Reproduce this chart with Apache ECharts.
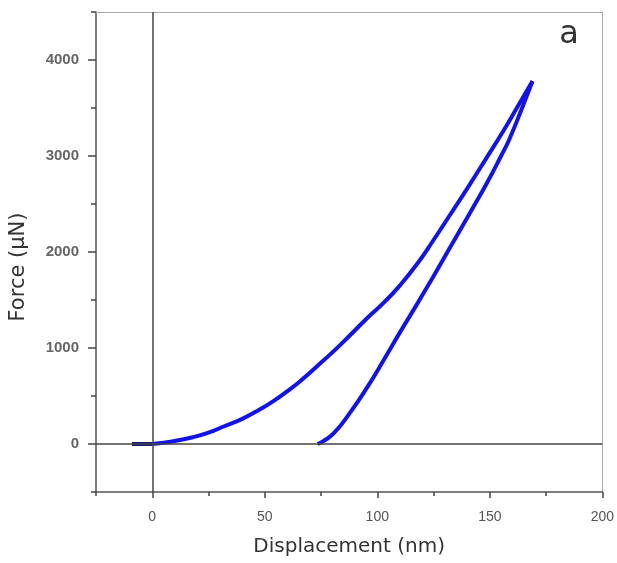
<!DOCTYPE html>
<html>
<head>
<meta charset="utf-8">
<script src="https://cdn.jsdelivr.net/npm/echarts@6/dist/echarts.min.js"></script>
<style>
  html, body { margin: 0; padding: 0; background: #fff; }
  #chart { width: 617px; height: 563px; }
</style>
</head>
<body>
<div id="chart"></div>
<script>
// 数据：位移 (nm) 与 力 (µN)
const baseDisp = [-9, -6, -3, 0];
const baseForce = [0, 0, 0, 0];

// 加载曲线
const loadDisp = [0, 4, 10, 18, 25, 32, 40, 47, 54, 62, 66, 73, 81, 88, 95, 103, 110, 118, 125, 132, 141, 148, 156, 162, 169];
const loadForce = [0, 10, 32, 70, 118, 185, 262, 350, 450, 585, 660, 805, 975, 1135, 1300, 1475, 1650, 1885, 2125, 2375, 2700, 2960, 3260, 3500, 3780];

// 卸载曲线
const unloadDisp = [169, 164, 158.6, 155, 148.3, 142, 135.1, 128, 124.8, 118, 110, 103, 95.5, 88, 80.8, 76, 73.5];
const unloadForce = [3780, 3480, 3170, 3000, 2700, 2440, 2160, 1870, 1740, 1470, 1160, 880, 590, 330, 115, 30, 0];

// 刻度
const xMajor = [0, 50, 100, 150, 200];
const xMinor = [-25, 25, 75, 125, 175];
const yMajor = [0, 1000, 2000, 3000, 4000];
const yMinor = [-500, 500, 1500, 2500, 3500, 4500];

const zip = (xs, ys) => xs.map((x, i) => [x, ys[i]]);

const myChart = echarts.init(document.getElementById('chart'));

const font = 'DejaVu Sans';

const option = {
  animation: false,
  grid: { left: 95, right: 13, top: 12, bottom: 71 },
  xAxis: [
    {
      type: 'value', min: -25, max: 200, interval: 25, position: 'bottom',
      name: 'Displacement (nm)', nameLocation: 'middle', nameGap: 45,
      nameTextStyle: { fontFamily: font, fontSize: 20, color: '#333' },
      axisLine: { onZero: false, lineStyle: { color: '#555', width: 1.5 } },
      axisTick: { customValues: xMajor, length: 6, lineStyle: { color: '#444', width: 1.5 } },
      axisLabel: { customValues: xMajor, color: '#555', fontSize: 14, margin: 18, fontFamily: 'Liberation Sans',
        formatter: v => String(v) },
      splitLine: { show: false }
    },
    {
      // 次刻度
      type: 'value', min: -25, max: 200, interval: 25, position: 'bottom',
      axisLine: { show: false, onZero: false },
      axisTick: { customValues: xMinor, length: 4, lineStyle: { color: '#444', width: 1.5 } },
      axisLabel: { show: false },
      splitLine: { show: false }
    },
    {
      type: 'value', min: -25, max: 200, position: 'top',
      axisLine: { onZero: false, lineStyle: { color: '#aaa', width: 1 } },
      axisTick: { show: false }, axisLabel: { show: false }, splitLine: { show: false }
    }
  ],
  yAxis: [
    {
      type: 'value', min: -500, max: 4500, interval: 500, position: 'left',
      name: 'Force (µN)', nameLocation: 'middle', nameGap: 67,
      nameTextStyle: { fontFamily: font, fontSize: 21, color: '#333', padding: [0, 30, 0, 0] },
      axisLine: { onZero: false, lineStyle: { color: '#555', width: 1.5 } },
      axisTick: { customValues: yMajor, length: 8, lineStyle: { color: '#444', width: 1.5 } },
      axisLabel: { customValues: yMajor, color: '#666', fontSize: 15, fontWeight: 'bold', margin: 17, fontFamily: 'Liberation Sans',
        formatter: v => String(v) },
      splitLine: { show: false }
    },
    {
      type: 'value', min: -500, max: 4500, interval: 500, position: 'left',
      axisLine: { show: false, onZero: false },
      axisTick: { customValues: yMinor, length: 5, lineStyle: { color: '#444', width: 1.5 } },
      axisLabel: { show: false },
      splitLine: { show: false }
    },
    {
      type: 'value', min: -500, max: 4500, position: 'right',
      axisLine: { onZero: false, lineStyle: { color: '#aaa', width: 1 } },
      axisTick: { show: false }, axisLabel: { show: false }, splitLine: { show: false }
    }
  ],
  graphic: [
    {
      type: 'text',
      style: { text: 'a', x: 569, y: 35, align: 'center', verticalAlign: 'middle', font: '32px "DejaVu Sans"', fill: '#333' }
    }
  ],
  series: [
    {
      name: 'zero',
      type: 'line',
      data: [],
      markLine: {
        silent: true,
        symbol: ['none', 'none'],
        label: { show: false },
        lineStyle: { color: '#444', width: 1.5, type: 'solid' },
        data: [{ xAxis: 0 }, { yAxis: 0 }]
      }
    },
    {
      name: 'base',
      type: 'line',
      data: zip(baseDisp, baseForce),
      showSymbol: false,
      lineStyle: { color: '#14147a', width: 4 }
    },
    {
      name: 'loading',
      type: 'line',
      data: zip(loadDisp, loadForce),
      smooth: 0.5,
      showSymbol: false,
      lineStyle: { color: '#1212ee', width: 4 }
    },
    {
      name: 'unloading',
      type: 'line',
      data: zip(unloadDisp, unloadForce),
      smooth: 0.5,
      showSymbol: false,
      lineStyle: { color: '#1212ee', width: 4 }
    }
  ]
};

myChart.setOption(option);
</script>
</body>
</html>
